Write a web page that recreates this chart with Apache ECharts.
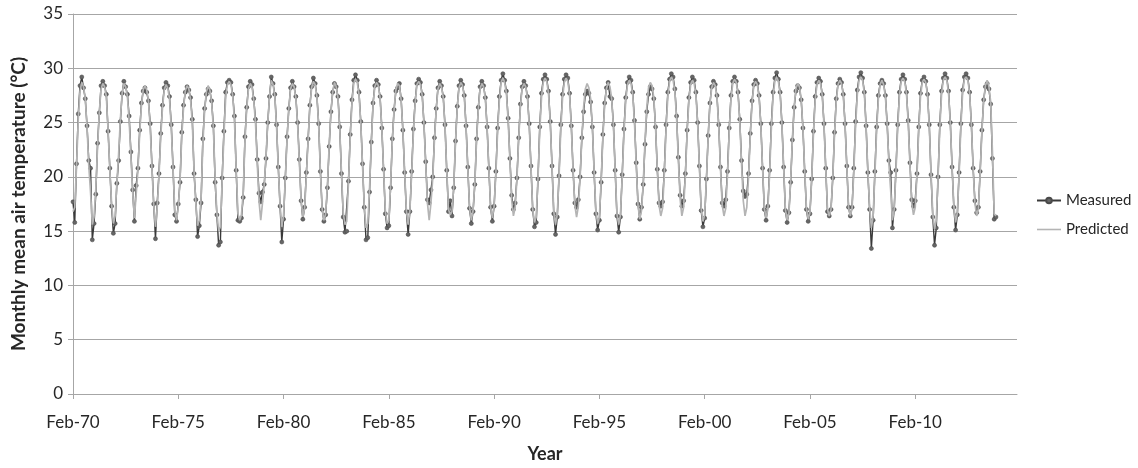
<!DOCTYPE html>
<html>
<head>
<meta charset="utf-8">
<script src="https://cdn.jsdelivr.net/npm/echarts@6/dist/echarts.min.js"></script>
<style>
  html, body { margin: 0; padding: 0; background: #fff; }
  #chart { width: 1138px; height: 468px; }
</style>
</head>
<body>
<div id="chart"></div>
<script>
// Monthly mean air temperature, measured vs predicted, Feb-1970 .. Dec-2013
// axis runs on to Dec-14 (blank months at the end, like the source sheet)

const MONTHS = ['Jan', 'Feb', 'Mar', 'Apr', 'May', 'Jun', 'Jul', 'Aug', 'Sep', 'Oct', 'Nov', 'Dec'];
const N_CATS = 539;          // Feb-70 .. Dec-14
const yTicks = [0, 5, 10, 15, 20, 25, 30, 35];

const categories = [];
for (let i = 0; i < N_CATS; i++) {
  const k = i + 1;               // month offset from Jan-70
  const yy = (1970 + Math.floor(k / 12)) % 100;
  categories.push(MONTHS[k % 12] + '-' + String(yy).padStart(2, '0'));
}

// measured, one row per year (Jan..Dec); 1970 starts in Feb
const measured = [
  /*1970*/ 17.7, 15.8, 21.2, 25.8, 28.4, 29.2, 28.2, 27.2, 24.7, 21.5, 20.8,
  /*1971*/ 14.2, 15.7, 18.4, 23.1, 25.9, 28.4, 28.8, 28.4, 27.6, 24.2, 20.8, 17.3,
  /*1972*/ 14.8, 15.7, 19.4, 21.5, 25.1, 27.7, 28.8, 28.3, 27.6, 25.6, 22.3, 18.8,
  /*1973*/ 15.9, 19.2, 20.8, 24.3, 26.8, 27.9, 28.2, 27.8, 27.0, 24.9, 21.0, 17.5,
  /*1974*/ 14.3, 17.6, 20.3, 24.0, 26.6, 28.2, 28.7, 28.4, 27.4, 24.8, 20.9, 16.5,
  /*1975*/ 15.9, 17.5, 19.5, 24.1, 26.6, 27.8, 28.3, 28.0, 27.3, 25.3, 20.3, 17.9,
  /*1976*/ 14.5, 15.5, 17.6, 23.5, 26.3, 27.6, 28.1, 27.9, 27.0, 24.7, 19.5, 16.5,
  /*1977*/ 13.7, 14.0, 19.9, 24.2, 27.8, 28.7, 28.9, 28.7, 27.6, 25.6, 20.6, 16.0,
  /*1978*/ 15.9, 16.2, 18.1, 23.7, 26.4, 28.3, 28.8, 28.5, 27.2, 25.3, 21.6, 18.5,
  /*1979*/ 17.7, 18.6, 19.3, 21.7, 25.0, 27.4, 29.2, 28.6, 27.6, 24.8, 20.9, 17.3,
  /*1980*/ 14.0, 16.1, 19.9, 23.7, 26.3, 28.2, 28.8, 28.3, 27.4, 25.0, 21.6, 17.8,
  /*1981*/ 16.1, 17.2, 20.4, 23.5, 26.6, 28.3, 29.1, 28.6, 27.5, 24.9, 20.5, 17.0,
  /*1982*/ 15.9, 16.5, 19.0, 22.8, 26.0, 27.8, 28.6, 28.3, 27.4, 24.6, 20.3, 16.3,
  /*1983*/ 14.9, 15.0, 19.6, 23.9, 27.1, 28.9, 29.4, 28.9, 27.8, 25.1, 21.2, 17.2,
  /*1984*/ 14.2, 14.4, 18.6, 23.2, 26.8, 28.4, 28.9, 28.5, 27.4, 24.5, 20.7, 16.6,
  /*1985*/ 15.3, 15.5, 19.0, 23.5, 26.2, 27.9, 28.2, 28.6, 27.2, 24.3, 20.4, 16.8,
  /*1986*/ 14.7, 16.8, 20.5, 24.4, 27.0, 28.6, 29.0, 28.7, 27.6, 25.0, 21.4, 17.9,
  /*1987*/ 17.6, 18.8, 20.0, 23.6, 26.3, 28.2, 28.8, 28.4, 27.4, 24.8, 20.6, 16.8,
  /*1988*/ 17.8, 16.4, 19.0, 23.3, 26.5, 28.4, 28.9, 28.5, 27.5, 24.7, 20.9, 17.1,
  /*1989*/ 15.7, 16.8, 19.3, 23.5, 26.4, 28.3, 28.8, 28.4, 27.3, 24.6, 20.8, 17.2,
  /*1990*/ 15.9, 17.3, 20.5, 24.5, 27.4, 28.9, 29.5, 28.9, 27.9, 25.4, 21.7, 18.3,
  /*1991*/ 17.0, 17.6, 19.9, 23.6, 26.7, 28.3, 28.8, 28.4, 27.4, 24.9, 21.0, 17.0,
  /*1992*/ 15.4, 15.8, 19.8, 24.6, 27.7, 29.0, 29.4, 29.0, 27.9, 25.1, 21.0, 16.6,
  /*1993*/ 14.7, 16.3, 20.1, 24.8, 27.6, 29.0, 29.4, 29.1, 27.7, 24.7, 20.6, 17.6,
  /*1994*/ 17.2, 17.9, 20.0, 23.6, 26.0, 27.6, 27.9, 27.7, 26.9, 24.6, 20.4, 16.6,
  /*1995*/ 15.1, 16.0, 19.5, 23.9, 26.8, 28.2, 28.7, 27.4, 27.2, 24.8, 20.6, 16.4,
  /*1996*/ 14.9, 16.3, 20.2, 24.4, 27.3, 28.7, 29.2, 28.9, 27.8, 25.2, 21.3, 17.5,
  /*1997*/ 16.1, 17.2, 19.3, 23.0, 26.0, 27.6, 28.3, 28.1, 27.2, 24.6, 20.7, 17.6,
  /*1998*/ 17.3, 17.7, 20.6, 24.8, 27.8, 29.0, 29.5, 29.2, 28.1, 25.6, 21.8, 18.3,
  /*1999*/ 17.3, 17.8, 20.3, 24.3, 27.3, 28.7, 29.2, 28.9, 27.8, 25.0, 21.0, 16.9,
  /*2000*/ 15.4, 16.2, 19.8, 23.8, 26.8, 28.3, 28.8, 28.5, 27.5, 24.8, 20.9, 17.6,
  /*2001*/ 17.3, 17.9, 20.5, 24.5, 27.5, 28.8, 29.2, 28.8, 27.8, 25.3, 21.5, 18.7,
  /*2002*/ 18.2, 18.4, 20.3, 24.0, 27.0, 28.5, 28.9, 28.6, 27.5, 24.9, 20.8, 17.0,
  /*2003*/ 16.0, 17.3, 20.6, 24.9, 27.8, 29.1, 29.6, 29.0, 27.8, 25.0, 20.9, 16.9,
  /*2004*/ 15.8, 16.7, 19.5, 23.4, 26.4, 27.9, 28.4, 28.2, 27.1, 24.5, 20.5, 17.0,
  /*2005*/ 15.9, 16.6, 19.8, 24.2, 27.4, 28.7, 29.1, 28.8, 27.6, 24.9, 20.8, 16.8,
  /*2006*/ 16.4, 17.0, 19.9, 24.1, 27.2, 28.6, 29.0, 28.7, 27.6, 24.9, 21.0, 17.2,
  /*2007*/ 16.4, 17.2, 20.8, 25.1, 28.0, 29.2, 29.6, 29.1, 27.8, 24.7, 20.4, 17.0,
  /*2008*/ 13.4, 16.0, 20.5, 24.6, 27.5, 28.6, 28.9, 28.6, 27.5, 24.9, 21.5, 20.4,
  /*2009*/ 15.3, 17.0, 20.6, 24.8, 27.8, 29.0, 29.4, 29.0, 27.8, 25.2, 21.3, 17.9,
  /*2010*/ 17.3, 17.8, 20.3, 24.6, 27.7, 28.9, 29.2, 28.8, 27.6, 24.8, 20.2, 16.3,
  /*2011*/ 13.7, 15.3, 20.0, 24.8, 27.9, 29.1, 29.5, 29.1, 27.9, 25.0, 20.9, 17.2,
  /*2012*/ 15.1, 16.5, 20.4, 24.9, 28.0, 29.2, 29.5, 29.1, 27.8, 24.8, 20.8, 17.8,
  /*2013*/ 16.7, 17.2, 20.5, 24.3, 27.1, 28.3, 28.6, 28.1, 26.7, 21.7, 16.1, 16.3,
];

// predicted (model), same months
const predicted = [
  /*1970*/ 16.8, 17.2, 20.9, 25.3, 27.9, 28.7, 28.3, 27.2, 24.6, 21.0, 18.6,
  /*1971*/ 15.6, 16.3, 18.9, 22.8, 26.0, 28.1, 28.6, 28.3, 27.4, 24.3, 20.6, 17.5,
  /*1972*/ 15.7, 16.4, 19.4, 22.1, 25.3, 27.7, 28.6, 28.3, 27.4, 25.2, 21.9, 18.6,
  /*1973*/ 16.2, 18.4, 20.6, 24.0, 26.6, 28.0, 28.4, 28.0, 27.0, 24.6, 20.8, 17.4,
  /*1974*/ 15.4, 17.2, 20.1, 23.7, 26.4, 28.0, 28.5, 28.2, 27.2, 24.6, 20.8, 16.9,
  /*1975*/ 16.0, 17.2, 19.7, 23.8, 26.4, 27.9, 28.4, 28.1, 27.1, 25.0, 20.5, 17.6,
  /*1976*/ 15.5, 16.0, 18.0, 23.0, 26.1, 27.8, 28.4, 28.0, 26.9, 24.5, 19.9, 16.7,
  /*1977*/ 15.0, 15.4, 19.6, 23.8, 27.3, 28.5, 28.8, 28.5, 27.5, 25.3, 20.7, 16.6,
  /*1978*/ 16.0, 16.5, 18.5, 23.3, 26.3, 28.1, 28.6, 28.3, 27.1, 25.0, 21.3, 17.8,
  /*1979*/ 16.0, 17.6, 19.3, 21.9, 25.0, 27.4, 28.9, 28.5, 27.5, 24.7, 20.8, 17.4,
  /*1980*/ 15.4, 16.5, 19.8, 23.5, 26.3, 28.1, 28.6, 28.3, 27.3, 24.9, 21.4, 17.8,
  /*1981*/ 16.3, 17.1, 20.1, 23.4, 26.5, 28.2, 28.8, 28.5, 27.4, 24.8, 20.5, 17.0,
  /*1982*/ 16.0, 16.6, 19.2, 22.9, 26.0, 27.8, 28.7, 28.3, 27.3, 24.5, 20.4, 16.7,
  /*1983*/ 15.6, 15.9, 19.5, 23.6, 26.8, 28.6, 29.0, 28.7, 27.6, 25.0, 21.1, 17.3,
  /*1984*/ 15.3, 15.7, 18.9, 23.1, 26.6, 28.3, 28.7, 28.4, 27.3, 24.5, 20.7, 16.9,
  /*1985*/ 15.7, 16.0, 19.2, 23.4, 26.2, 28.0, 28.6, 28.4, 27.1, 24.3, 20.5, 16.9,
  /*1986*/ 15.6, 16.9, 20.3, 24.1, 26.8, 28.5, 28.8, 28.5, 27.5, 24.9, 21.3, 17.6,
  /*1987*/ 16.0, 17.6, 19.8, 23.4, 26.2, 28.1, 28.6, 28.3, 27.3, 24.7, 20.6, 17.0,
  /*1988*/ 16.5, 16.8, 19.2, 23.2, 26.4, 28.2, 28.7, 28.4, 27.4, 24.6, 20.8, 17.2,
  /*1989*/ 16.0, 16.9, 19.4, 23.4, 26.3, 28.1, 28.6, 28.3, 27.2, 24.5, 20.8, 17.2,
  /*1990*/ 16.2, 17.3, 20.3, 24.2, 27.1, 28.7, 29.1, 28.7, 27.7, 25.2, 21.5, 17.9,
  /*1991*/ 16.4, 17.2, 19.8, 23.5, 26.5, 28.2, 28.6, 28.3, 27.3, 24.8, 20.9, 17.0,
  /*1992*/ 15.8, 16.3, 19.8, 24.2, 27.3, 28.7, 29.1, 28.8, 27.7, 25.0, 20.9, 16.8,
  /*1993*/ 15.6, 16.6, 20.0, 24.4, 27.3, 28.7, 29.1, 28.8, 27.6, 24.6, 20.6, 17.4,
  /*1994*/ 16.3, 17.3, 19.9, 23.6, 26.4, 28.1, 28.6, 28.2, 27.2, 24.6, 20.5, 16.8,
  /*1995*/ 15.7, 16.3, 19.6, 23.7, 26.6, 28.1, 28.7, 28.3, 27.2, 24.7, 20.6, 16.6,
  /*1996*/ 15.6, 16.5, 20.0, 24.1, 27.0, 28.5, 28.9, 28.6, 27.6, 25.0, 21.1, 17.4,
  /*1997*/ 16.1, 16.9, 19.4, 23.3, 26.4, 28.2, 28.7, 28.4, 27.3, 24.6, 20.7, 17.4,
  /*1998*/ 16.4, 17.1, 20.3, 24.4, 27.4, 28.8, 29.2, 28.9, 27.9, 25.4, 21.6, 18.0,
  /*1999*/ 16.4, 17.2, 20.1, 24.1, 27.0, 28.5, 28.9, 28.6, 27.6, 24.9, 20.9, 17.1,
  /*2000*/ 15.9, 16.5, 19.8, 23.7, 26.7, 28.2, 28.7, 28.4, 27.4, 24.7, 20.8, 17.4,
  /*2001*/ 16.4, 17.1, 20.2, 24.2, 27.2, 28.6, 29.0, 28.7, 27.7, 25.1, 21.3, 17.8,
  /*2002*/ 16.4, 17.2, 20.0, 23.8, 26.8, 28.4, 28.8, 28.5, 27.4, 24.8, 20.8, 17.1,
  /*2003*/ 16.2, 17.0, 20.3, 24.5, 27.5, 28.8, 29.2, 28.8, 27.7, 24.9, 20.9, 17.0,
  /*2004*/ 16.0, 16.6, 19.6, 23.5, 26.5, 28.1, 28.6, 28.3, 27.2, 24.5, 20.6, 17.1,
  /*2005*/ 16.1, 16.7, 19.8, 24.0, 27.1, 28.5, 28.9, 28.6, 27.5, 24.8, 20.8, 17.0,
  /*2006*/ 16.4, 17.0, 19.9, 23.9, 27.0, 28.5, 28.9, 28.6, 27.5, 24.8, 21.0, 17.2,
  /*2007*/ 16.4, 17.1, 20.5, 24.7, 27.6, 28.9, 29.2, 28.9, 27.7, 24.6, 20.5, 17.2,
  /*2008*/ 15.3, 16.4, 20.2, 24.3, 27.2, 28.5, 28.9, 28.5, 27.4, 24.8, 21.2, 18.8,
  /*2009*/ 16.0, 17.0, 20.4, 24.5, 27.5, 28.8, 29.1, 28.8, 27.7, 25.0, 21.1, 17.6,
  /*2010*/ 16.5, 17.2, 20.2, 24.3, 27.4, 28.7, 29.0, 28.7, 27.5, 24.7, 20.3, 16.6,
  /*2011*/ 15.2, 16.0, 19.9, 24.5, 27.6, 28.9, 29.2, 28.9, 27.7, 24.9, 20.9, 17.3,
  /*2012*/ 15.8, 16.7, 20.2, 24.6, 27.7, 29.0, 29.2, 28.9, 27.7, 24.8, 20.8, 17.6,
  /*2013*/ 16.4, 17.1, 20.3, 24.2, 27.0, 28.4, 28.9, 28.3, 26.9, 22.3, 16.6, 16.4,
];

const FONT = 'Lato, "Open Sans", sans-serif';
const txtClr  = '#262626';
const gridClr = '#a6a6a6';
const measClr = '#3a3a3a';
const predClr = '#b4b4b4';

const chart = echarts.init(document.getElementById('chart'), null, { renderer: 'canvas' });

chart.setOption({
  backgroundColor: '#ffffff',
  animation: false,
  textStyle: { fontFamily: FONT },
  grid: { left: 73, top: 14, width: 944, height: 380, containLabel: false },
  legend: {
    orient: 'vertical', left: 1031, top: 188,
    itemWidth: 24, itemHeight: 7, itemGap: 14,
    symbolKeepAspect: true,
    textStyle: { color: txtClr, fontSize: 15, fontFamily: FONT },
    data: [
      'Measured',
      { name: 'Predicted', icon: 'path://M0,0L24,0L24,1.6L0,1.6Z' },
    ],
  },
  xAxis: {
    type: 'category', data: categories, boundaryGap: false,
    name: 'Year', nameLocation: 'middle', nameGap: 51,
    nameTextStyle: { color: txtClr, fontSize: 18, fontWeight: 'bold', fontFamily: FONT },
    axisLine: { lineStyle: { color: gridClr, width: 1 } },
    axisTick: { show: true, interval: 59, length: 5, lineStyle: { color: gridClr } },
    axisLabel: { interval: 59, color: txtClr, fontSize: 17, margin: 20, fontFamily: FONT },
    splitLine: { show: false },
  },
  yAxis: {
    type: 'value', min: yTicks[0], max: yTicks[yTicks.length - 1], interval: 5,
    name: 'Monthly mean air temperature (°C)', nameLocation: 'middle', nameGap: 45,
    nameTextStyle: { color: txtClr, fontSize: 19, fontWeight: 'bold', fontFamily: FONT },
    axisLine: { show: true, lineStyle: { color: gridClr, width: 1 } },
    axisTick: { show: true, length: 5, lineStyle: { color: gridClr } },
    axisLabel: { color: txtClr, fontSize: 17, margin: 10, fontFamily: FONT },
    splitLine: { lineStyle: { color: gridClr, width: 1 } },
  },
  series: [
    {
      name: 'Measured', type: 'line', data: measured,
      symbol: 'circle', symbolSize: 4, showSymbol: true, showAllSymbol: true,
      itemStyle: { color: '#666', borderColor: '#4a4a4a', borderWidth: 0.6 },
      lineStyle: { color: measClr, width: 1.4 },
      z: 2,
    },
    {
      name: 'Predicted', type: 'line', data: predicted,
      symbol: 'none',
      itemStyle: { color: predClr },
      lineStyle: { color: predClr, width: 1.7 },
      z: 3,
    },
  ],
});
</script>
</body>
</html>
